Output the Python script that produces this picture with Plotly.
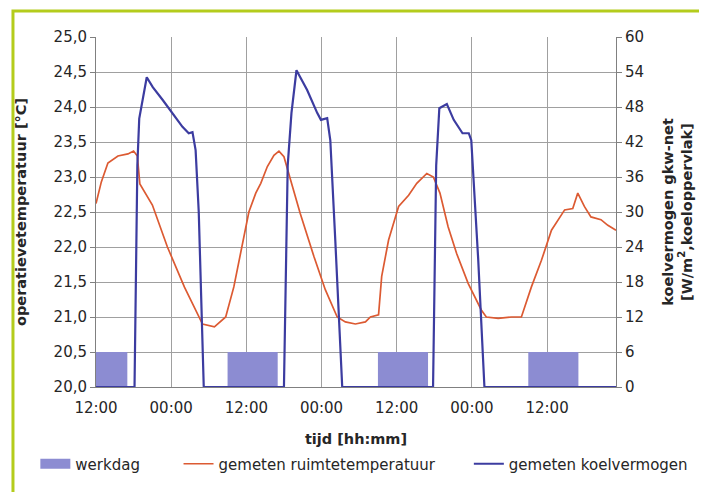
import plotly.graph_objects as go

# ---- data (hours since first 12:00) ----
temp_t = [0, 0.85, 1.9, 3.5, 5.1, 6.0, 6.6, 7.0, 9.0, 11.4, 14.1, 16.5, 17.0, 18.9, 20.7, 22.0,
          23.4, 24.4, 25.5, 26.3, 27.35, 28.4, 29.2, 30.0, 31.05, 32.6, 34.8, 36.6, 38.5, 39.8,
          41.4, 43.0, 43.8, 45.1, 45.6, 46.7, 48.3, 49.9, 51.2, 52.8, 53.85, 54.9, 56.2, 57.55,
          59.4, 61.5, 62.3, 64.2, 66.3, 67.9, 69.5, 71.1, 72.7, 74.0, 74.8, 76.1, 76.9, 77.95,
          79.0, 80.6, 81.7, 83.0]
temp = [22.62, 22.93, 23.2, 23.3, 23.33, 23.37, 23.3, 22.9, 22.6, 22.0, 21.43, 21.0, 20.9, 20.86,
        21.0, 21.43, 22.05, 22.5, 22.77, 22.91, 23.15, 23.31, 23.37, 23.29, 22.96, 22.48, 21.86,
        21.39, 21.0, 20.93, 20.9, 20.93, 21.0, 21.03, 21.58, 22.1, 22.58, 22.74, 22.91, 23.05,
        23.0, 22.77, 22.29, 21.91, 21.48, 21.1, 21.0, 20.98, 21.0, 21.0, 21.43, 21.81, 22.24,
        22.41, 22.53, 22.55, 22.77, 22.58, 22.43, 22.39, 22.31, 22.24]

koel_t = [0, 6.15, 6.6, 6.9, 8.1, 9.06, 10.65, 12.2, 13.8, 14.8, 15.4, 15.9, 16.4, 17.2,
          30.0, 30.6, 31.2, 32.0, 33.7, 35.3, 35.9, 36.9, 37.4, 38.2, 39.3,
          53.8, 54.3, 54.8, 56.0, 57.1, 58.5, 59.5, 59.9, 61.0, 62.0, 83.0]
koel = [0, 0, 38, 46, 53.1, 51.4, 49.2, 47.0, 44.6, 43.5, 43.7, 40.6, 30, 0,
        0, 38, 47, 54.3, 50.9, 47.0, 45.8, 46.1, 42.3, 25, 0,
        0, 38, 47.8, 48.5, 45.8, 43.5, 43.5, 42.3, 22, 0, 0]

werkdag_start = [0, 21, 45, 69]
werkdag_end = [5, 29, 53, 77]
werkdag_level = 6

tick_vals = [0, 12, 24, 36, 48, 60, 72]
tick_text = ["12:00", "00:00", "12:00", "00:00", "12:00", "00:00", "12:00"]

# ---- build werkdag polygons ----
wx, wy = [], []
for s, e in zip(werkdag_start, werkdag_end):
    wx += [s, e, e, s, s, None]
    wy += [0, 0, werkdag_level, werkdag_level, 0, None]

FONT = "DejaVu Sans"
grid = "#a0a0a0"
WERK = "#8c8cd2"
TXT = "#262626"

fig = go.Figure()
fig.add_trace(go.Scatter(x=wx, y=wy, yaxis="y2", fill="toself", mode="lines",
                         line=dict(width=0, color=WERK), fillcolor=WERK,
                         name="werkdag", legendgroup="werk", showlegend=False,
                         hoverinfo="skip"))
# legend-only entry for werkdag (wide block symbol)
fig.add_trace(go.Scatter(x=[None], y=[None], yaxis="y2", mode="lines",
                         line=dict(width=10, color=WERK), name="werkdag",
                         legendgroup="werk", legend="legend"))
fig.add_trace(go.Scatter(x=temp_t, y=temp, mode="lines", line=dict(color="#dc5a32", width=1.7),
                         name="gemeten ruimtetemperatuur", legend="legend2"))
fig.add_trace(go.Scatter(x=koel_t, y=koel, yaxis="y2", mode="lines",
                         line=dict(color="#3c3ca0", width=2.2),
                         name="gemeten koelvermogen", legend="legend3"))

# page is offset by the 8px body margin -> figure is 8px smaller
OFF = 8
W, H = 707 - OFF, 492 - OFF
L, T = 93 - OFF, 37 - OFF
pw, ph = 523, 350
R, B = W - L - pw, H - T - ph

def px(page_x):
    return (page_x - OFF - L) / pw

def py(page_y):
    return (T + ph - (page_y - OFF)) / ph

legend_common = dict(orientation="h", yanchor="middle", xanchor="left",
                     font=dict(family=FONT, size=15, color=TXT),
                     bgcolor="rgba(0,0,0,0)")

fig.update_layout(
    width=W, height=H,
    margin=dict(l=L, r=R, t=T, b=B),
    paper_bgcolor="white", plot_bgcolor="white",
    separators=",.",
    showlegend=True,
    font=dict(family=FONT, size=15, color=TXT),
    xaxis=dict(range=[0, 83], tickvals=tick_vals, ticktext=tick_text,
               showgrid=True, gridcolor=grid, gridwidth=1,
               showline=True, linecolor="#808080", linewidth=1,
               ticks="", zeroline=False, ticklabelstandoff=7,
               tickfont=dict(family=FONT, size=15, color=TXT),
               title=dict(text="<b>tijd [hh:mm]</b>", font=dict(family=FONT, size=14.5),
                          standoff=17)),
    yaxis=dict(range=[20, 25], dtick=0.5, tickformat=".1f",
               showgrid=True, gridcolor=grid, gridwidth=1,
               showline=True, linecolor="#808080", linewidth=1,
               ticks="outside", ticklen=5, tickcolor="#808080", zeroline=False,
               tickfont=dict(family=FONT, size=15, color=TXT),
               title=dict(text="<b>operatievetemperatuur [°C]</b>",
                          font=dict(family=FONT, size=14.5), standoff=23)),
    yaxis2=dict(range=[0, 60], dtick=6, overlaying="y", side="right",
                showgrid=False, showline=True, linecolor="#808080", linewidth=1,
                ticks="outside", ticklen=5, tickcolor="#808080", zeroline=False,
                tickfont=dict(family=FONT, size=15, color=TXT),
                title=dict(text="<b>koelvermogen gkw-net<br>[W/m<sup>2</sup>,koeloppervlak]</b>",
                           font=dict(family=FONT, size=14.5), standoff=19)),
    legend=dict(x=px(32), y=py(464), **legend_common),
    legend2=dict(x=px(176), y=py(464), **legend_common),
    legend3=dict(x=px(468), y=py(464), **legend_common),
    shapes=[dict(type="rect", xref="paper", yref="paper",
                 x0=px(9.5), x1=px(730), y0=py(520), y1=py(11),
                 line=dict(color="#b4cc1c", width=3), fillcolor="rgba(0,0,0,0)", layer="below")],
)

fig.write_html("out.html")
